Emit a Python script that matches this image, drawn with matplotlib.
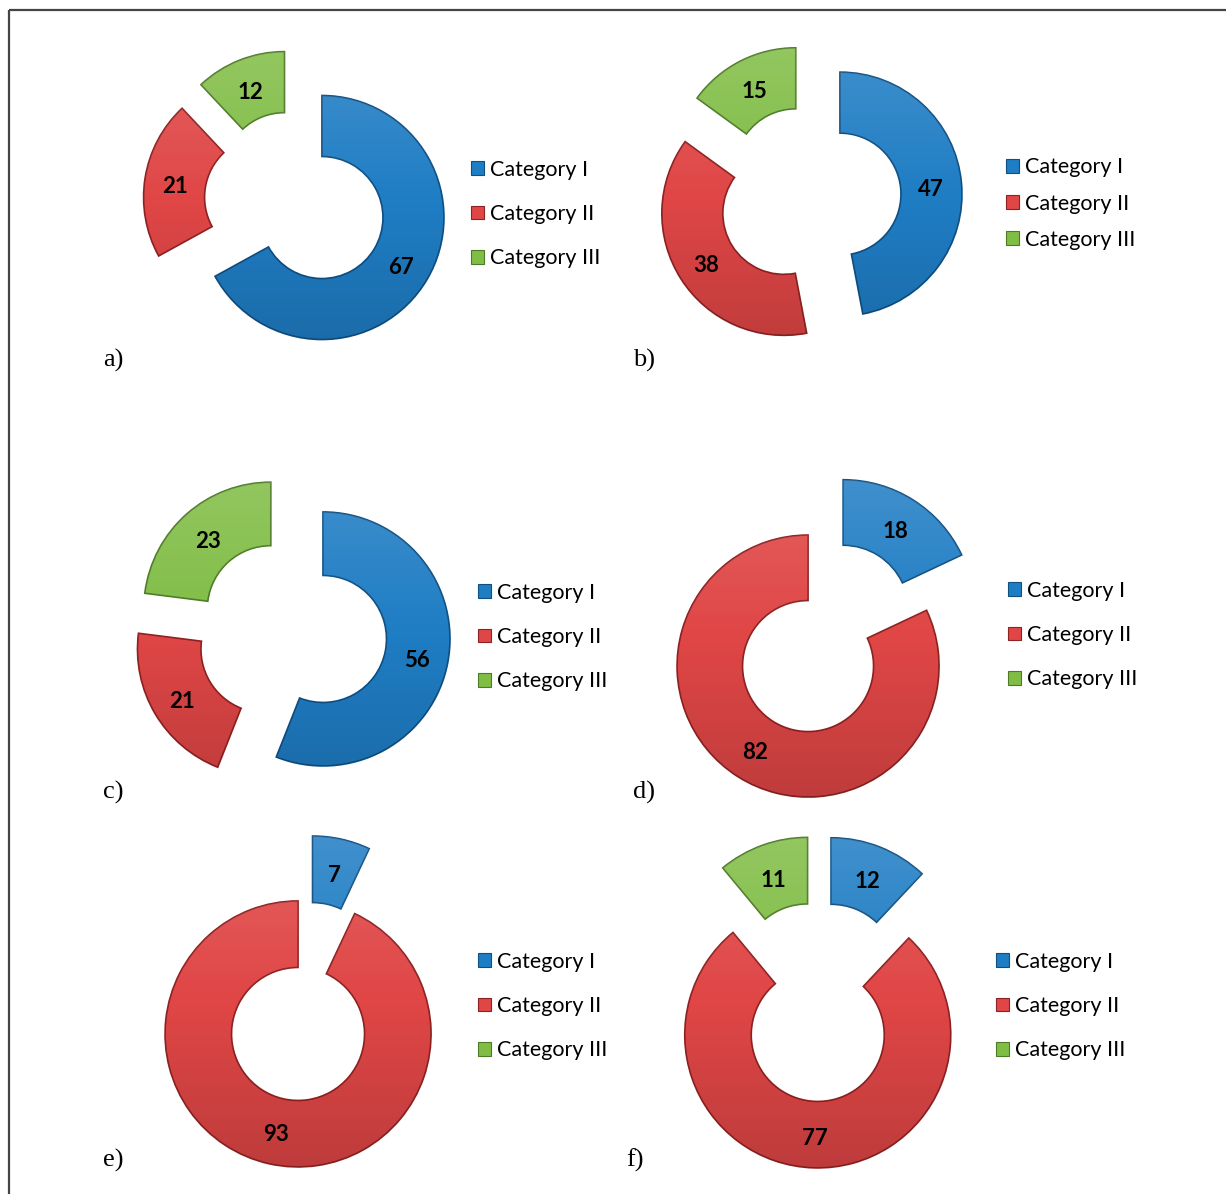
import matplotlib
matplotlib.use("Agg")
import numpy as np
import matplotlib.pyplot as plt
from matplotlib.patches import Patch
from matplotlib.legend import Legend

# ---------------- data ----------------
categories = ["Category I", "Category II", "Category III"]
panel_labels = ["a)", "b)", "c)", "d)", "e)", "f)"]
cat1 = [67, 47, 56, 18, 7, 12]
cat2 = [21, 38, 21, 82, 93, 77]
cat3 = [12, 15, 23, 0, 0, 11]

colors = ["#1f7dc4", "#e04646", "#80bd45"]
edges = ["#0f4f82", "#8e2222", "#4d7a24"]

# ---------------- layout (pixels, image coordinates) ----------------
W, H = 1226, 1194
centers = [(295.7, 202), (809.6, 197), (291.8, 633), (825.6, 638.4), (305.3, 1001.5), (818.8, 1001.7)]
radii = [122, 122, 127, 131, 133, 133]
legend_pos = [(471, 214), (1006, 203.5), (478, 637), (1008, 635), (478, 1006), (996, 1006)]
legend_spacing = [1.13, 0.75, 1.13, 1.13, 1.13, 1.13]
letter_pos = [(103, 360), (633, 360), (103, 792), (633, 792), (103, 1160), (626, 1160)]
label_drop = 3.5

fig = plt.figure(figsize=(W / 100, H / 100), dpi=100)
ax = fig.add_axes([0, 0, 1, 1])
ax.set_xlim(0, W)
ax.set_ylim(0, H)
ax.set_aspect("equal")
ax.axis("off")

def Y(y):
    return H - y

# shading overlay: light at top, dark at bottom
grad = np.linspace(0, 1, 256)[:, None]
shade = np.zeros((256, 1, 4))
shade[..., :3] = np.where(grad < 0.5, 1.0, 0.0)[..., None] * np.ones(3)
shade[..., 3] = np.abs(grad - 0.5) * 0.34

# border
ax.plot([8.5, 8.5], [Y(1194), Y(9.5)], color="#444444", lw=1.6, solid_capstyle="butt")
ax.plot([8.5, W], [Y(9.5), Y(9.5)], color="#444444", lw=1.6, solid_capstyle="butt")

for i in range(6):
    vals = [cat1[i], cat2[i], cat3[i]]
    idx = [k for k, v in enumerate(vals) if v > 0]
    v = [vals[k] for k in idx]
    cx, cy = centers[i]
    R = radii[i]
    wedges, texts, autotexts = ax.pie(
        v,
        colors=[colors[k] for k in idx],
        explode=[0.25 * R] * len(v),
        startangle=90,
        counterclock=False,
        radius=R,
        center=(cx, Y(cy)),
        autopct=lambda p: f"{p:.0f}",
        pctdistance=0.75,
        wedgeprops=dict(width=0.5 * R, linewidth=1.2),
        textprops=dict(fontsize=16, fontweight="bold", family="Lato", color="black"),
        frame=True,
    )
    for w, k in zip(wedges, idx):
        w.set_edgecolor(edges[k])
        im = ax.imshow(shade, extent=(cx - 1.4 * R, cx + 1.4 * R, Y(cy) - 1.4 * R, Y(cy) + 1.4 * R),
                       origin="upper", aspect="auto", zorder=1.2, interpolation="bilinear")
        im.set_clip_path(w)
    for t in autotexts:
        px, py = t.get_position()
        t.set_position((px, py - label_drop))
        t.set_zorder(3)

    handles = [Patch(facecolor=colors[k], edgecolor=edges[k], linewidth=0.8) for k in range(3)]
    lx, ly = legend_pos[i]
    leg = Legend(
        ax, handles, categories,
        loc="center left", bbox_to_anchor=(lx, Y(ly)), bbox_transform=ax.transData,
        frameon=False, borderpad=0, borderaxespad=0,
        handlelength=0.6, handleheight=0.6, handletextpad=0.28,
        labelspacing=legend_spacing[i],
        prop=dict(family="Lato", size=15.5),
    )
    ax.add_artist(leg)

    tx, ty = letter_pos[i]
    ax.text(tx, Y(ty), panel_labels[i], family="Liberation Serif", fontsize=19,
            ha="left", va="center", color="black")

ax.set_xlim(0, W)
ax.set_ylim(0, H)
ax.axis("off")
fig.savefig("out.png", dpi=100)
